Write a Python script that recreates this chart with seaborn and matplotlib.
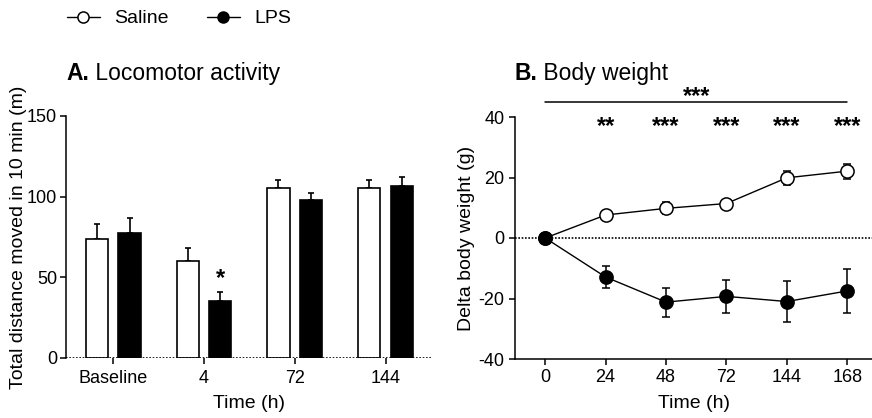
import matplotlib
matplotlib.use("Agg")
import matplotlib.pyplot as plt
from matplotlib.lines import Line2D
import numpy as np
import pandas as pd
import seaborn as sns

# A. locomotor activity (mean, upper error)
loco_times = ["Baseline", "4", "72", "144"]
loco_saline = [74, 60, 105.5, 105.5]
loco_saline_err = [9, 8, 5, 5]
loco_lps = [77.5, 35.5, 98, 106.5]
loco_lps_err = [9, 5.5, 4, 5.5]
loco_stars = ["", "*", "", ""]

# B. body weight change
bw_times = ["0", "24", "48", "72", "144", "168"]
bw_saline = [0, 7.6, 9.8, 11.4, 19.9, 22.1]
bw_saline_err = [0, 1.2, 2.0, 1.0, 2.4, 2.5]
bw_lps = [0, -12.9, -21.2, -19.3, -21.0, -17.5]
bw_lps_err = [0, 3.5, 4.8, 5.5, 6.9, 7.2]
bw_stars = ["", "**", "***", "***", "***", "***"]
bw_overall = "***"

groups = ["Saline", "LPS"]

sns.set_theme(style="ticks")
plt.rcParams["font.family"] = ["Liberation Sans", "DejaVu Sans"]
plt.rcParams["axes.unicode_minus"] = False
plt.rcParams["axes.linewidth"] = 1.1
plt.rcParams["xtick.major.width"] = 1.1
plt.rcParams["ytick.major.width"] = 1.1
plt.rcParams["xtick.major.size"] = 4.5
plt.rcParams["ytick.major.size"] = 4.5
plt.rcParams["xtick.labelsize"] = 13
plt.rcParams["ytick.labelsize"] = 13
plt.rcParams["axes.labelsize"] = 14
plt.rcParams["text.color"] = "black"
plt.rcParams["axes.labelcolor"] = "black"
plt.rcParams["xtick.color"] = "black"
plt.rcParams["ytick.color"] = "black"
plt.rcParams["axes.edgecolor"] = "black"

W, H = 872, 418
fig = plt.figure(figsize=(W / 100, H / 100), dpi=100)
ax_a = fig.add_axes([66 / W, 1 - 358 / H, 365 / W, 242 / H])
ax_b = fig.add_axes([515 / W, 1 - 359 / H, 357 / W, 242 / H])

# ---- panel A
df_a = pd.DataFrame({
    "time": loco_times * 2,
    "group": ["Saline"] * len(loco_times) + ["LPS"] * len(loco_times),
    "value": loco_saline + loco_lps,
})
sns.barplot(data=df_a, x="time", y="value", hue="group", order=loco_times,
            hue_order=groups, palette={"Saline": "white", "LPS": "black"},
            edgecolor="black", linewidth=1.2, width=0.72, gap=0.32,
            errorbar=None, legend=False, saturation=1, ax=ax_a, zorder=2)

bars = ax_a.patches
n = len(loco_times)
means = loco_saline + loco_lps
errs = loco_saline_err + loco_lps_err
xs = [b.get_x() + b.get_width() / 2 for b in bars]
ax_a.errorbar(xs, means, yerr=[np.zeros(len(errs)), errs], fmt="none",
              ecolor="black", elinewidth=1.2, capsize=2.5, capthick=1.2, zorder=1)
for i, s in enumerate(loco_stars):
    if s:
        ax_a.text(xs[n + i], loco_lps[i] + loco_lps_err[i] + 4.3, s,
                  ha="center", va="baseline", fontsize=17, fontweight="bold")

ax_a.axhline(0, color="black", ls=(0, (1, 1)), lw=1.2, zorder=3)
ax_a.set_ylim(0, 150)
ax_a.set_yticks([0, 50, 100, 150])
ax_a.set_xlim(-0.52, 3.5)
ax_a.set_xlabel("Time (h)", labelpad=6)
ax_a.set_ylabel("Total distance moved in 10 min (m)", labelpad=0)
sns.despine(ax=ax_a)
ax_a.spines["bottom"].set_visible(False)
ax_a.tick_params(axis="x", pad=4)
ax_a.tick_params(axis="y", pad=2)

# ---- panel B
ax_b.axhline(0, color="black", ls=(0, (1, 1)), lw=1.2, zorder=1)
sns.pointplot(x=bw_times, y=bw_saline, order=bw_times, color="black",
              markers="o", errorbar=None, ax=ax_b, linewidth=1,
              markersize=9.5, markeredgewidth=1.1,
              markerfacecolor="white", markeredgecolor="black", zorder=4)
sns.pointplot(x=bw_times, y=bw_lps, order=bw_times, color="black",
              markers="o", errorbar=None, ax=ax_b, linewidth=1,
              markersize=9.5, markeredgewidth=1.1,
              markerfacecolor="black", markeredgecolor="black", zorder=5)
xb = ax_b.lines[1].get_xdata()
ax_b.errorbar(xb, bw_saline, yerr=bw_saline_err, fmt="none", ecolor="black",
              elinewidth=1.1, capsize=3, capthick=1.1, zorder=2)
ax_b.errorbar(xb, bw_lps, yerr=bw_lps_err, fmt="none", ecolor="black",
              elinewidth=1.1, capsize=3, capthick=1.1, zorder=2)

for x, s in zip(xb, bw_stars):
    if s:
        ax_b.text(x, 34.6, s, ha="center", va="baseline", fontsize=17,
                  fontweight="bold", clip_on=False)
ax_b.plot([xb[0], xb[-1]], [45, 45], color="black", lw=1.1, clip_on=False)
ax_b.text((xb[0] + xb[-1]) / 2, 44.7, bw_overall, ha="center", va="baseline",
          fontsize=17, fontweight="bold", clip_on=False)

ax_b.set_ylim(-40, 40)
ax_b.set_yticks([-40, -20, 0, 20, 40])
ax_b.set_xlim(-0.5, 5.41)
ax_b.set_xlabel("Time (h)", labelpad=6)
ax_b.set_ylabel("Delta body weight (g)", labelpad=2.5)
sns.despine(ax=ax_b)
ax_b.tick_params(axis="x", pad=3)
ax_b.tick_params(axis="y", pad=3)

# titles with bold letter
for letter, rest, x0 in [("A.", " Locomotor activity", 66), ("B.", " Body weight", 514)]:
    t = fig.text(x0 / W, 1 - 85 / H, letter, fontsize=16.5, fontweight="bold",
                 ha="left", va="bottom")
    ax_a.annotate(rest, xy=(1, 0), xycoords=t, fontsize=16.5, ha="left",
                  va="bottom", annotation_clip=False)

# legend
handles = [
    Line2D([], [], color="black", lw=1, marker="o", markersize=8,
           markerfacecolor="white", markeredgecolor="black", markeredgewidth=1.1),
    Line2D([], [], color="black", lw=1, marker="o", markersize=8,
           markerfacecolor="black", markeredgecolor="black"),
]
fig.legend(handles, groups, loc="upper left", bbox_to_anchor=(57 / W, 1),
           ncol=2, frameon=False, borderpad=0, handlelength=1.7,
           handletextpad=0.75, columnspacing=1.95, fontsize=14)

fig.savefig("out.png", dpi=100)
